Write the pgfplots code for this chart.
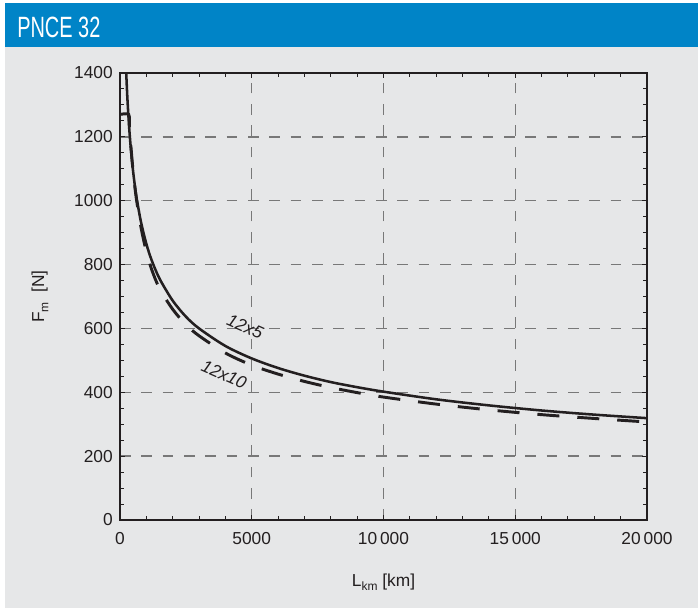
\documentclass[border=0pt]{standalone}
\usepackage{pgfplots}
\pgfplotsset{compat=1.18}
\usepackage{fontspec}
\setmainfont{Liberation Sans}
\setsansfont{Liberation Sans}
\definecolor{bgGrey}{RGB}{230,231,232}
\definecolor{hdrBlue}{RGB}{0,132,199}
\definecolor{ink}{RGB}{35,31,32}
\definecolor{gridGrey}{RGB}{120,120,120}
\begin{document}
\begin{tikzpicture}
\begin{scope}[x=0.75pt,y=0.75pt]
\useasboundingbox (0,0) rectangle (698,608);
\fill[white] (0,0) rectangle (698,608);
\fill[bgGrey] (5,0) rectangle (698,561);
\fill[hdrBlue] (5,561) rectangle (698,605);
\node[anchor=base west, text=white, inner sep=0pt, font=\fontsize{22}{24}\selectfont] at (17,570.5) {\scalebox{0.68}[1]{PNCE 32}};
\end{scope}
\begin{axis}[
  scale only axis, width=395.25pt, height=335.25pt,
  at={(90pt,66pt)}, anchor=south west,
  xmin=0, xmax=20000, ymin=0, ymax=1400,
  xtick={0,5000,10000,15000,20000},
  xticklabels={0,5000,10\,000,15\,000,20\,000},
  ytick={0,200,400,600,800,1000,1200,1400},
  yticklabels={0,200,400,600,800,1000,1200,1400},
  minor x tick num=4, minor y tick num=3,
  scaled x ticks=false, scaled y ticks=false,
  tick align=inside,
  major tick length=3.75pt, minor tick length=3pt,
  grid=major,
  major grid style={gridGrey, line width=1pt, dash pattern=on 8pt off 8pt},
  axis line style={ink, line width=1.1pt},
  tick style={ink, line width=0.8pt},
  ticklabel style={font=\fontsize{13}{15}\selectfont, text=ink},
  yticklabel style={anchor=east, inner sep=0pt, xshift=-5.25pt},
  xticklabel style={anchor=north, inner sep=0pt, yshift=-9pt},
  every axis x label/.style={at={(axis description cs:0.5,-0.149)}, anchor=base},
  every axis y label/.style={at={(axis description cs:-0.1518,0.5)}, rotate=90, anchor=center},
  label style={font=\fontsize{13}{15}\selectfont, text=ink},
  xlabel={L\raisebox{-0.45ex}{\fontsize{9}{10}\selectfont km}\ [km]},
  ylabel={F\raisebox{-0.45ex}{\fontsize{9}{10}\selectfont m}\ \ [N]},
]
\addplot[ink, line width=1.9pt, smooth] coordinates {
(236,1400)(270,1338)(300,1292)(350,1227)(400,1174)(450,1129)(500,1090)(575,1040)(650,999)(800,932)(1000,865)(1200,814)(1500,756)(2000,687)(2500,637)(3000,600)(4000,545)(5000,506)(6000,476)(7000,452)(8000,432)(9000,416)(10000,402)(12000,378)(14000,359)(16000,343)(18000,330)(20000,319)
};
\addplot[ink, line width=2.2pt, dash pattern=on 16.5pt off 13.5pt, smooth] coordinates {
(0,1270)(330,1270)(360,1230)(400,1185)(450,1135)(500,1090)(575,1035)(650,990)(800,915)(1000,840)(1200,785)(1500,725)(2000,660)(2500,612)(3000,577)(4000,523)(5000,485)(6000,457)(7000,434)(8000,415)(9000,399)(10000,385)(12000,363)(14000,345)(16000,330)(18000,318)(20000,307)
};
\node[rotate=-24, text=ink, font=\itshape\fontsize{13}{15}\selectfont] at (axis cs:4750,606) {12x5};
\node[rotate=-24, text=ink, font=\itshape\fontsize{13}{15}\selectfont] at (axis cs:3950,455) {12x10};
\end{axis}
\end{tikzpicture}
\end{document}
